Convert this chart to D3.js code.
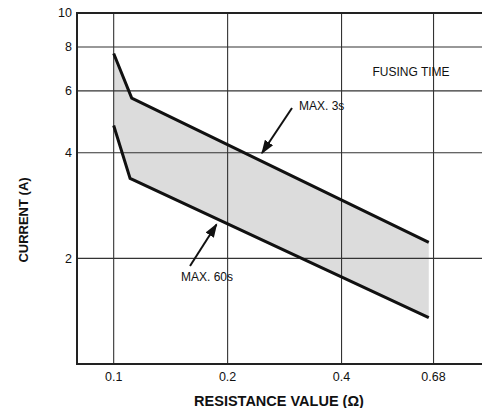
<!DOCTYPE html>
<html>
<head>
<meta charset="utf-8">
<script src="https://cdn.jsdelivr.net/npm/d3@7"></script>
<style>
  html, body { margin: 0; padding: 0; background: #fff; }
  svg { display: block; }
  text { font-family: "Liberation Sans", Arial, sans-serif; fill: #111; }
</style>
</head>
<body>
<script>
// ---- data ----
const upperX = [0.1, 0.1116, 0.68];      // MAX. 3s
const upperY = [7.67, 5.72, 2.22];
const lowerX = [0.1, 0.1105, 0.68];      // MAX. 60s
const lowerY = [4.78, 3.38, 1.356];
const xTickValues = [0.1, 0.2, 0.4, 0.7];
const xTickLabels = ["0.1", "0.2", "0.4", "0.68"];
const yTickValues = [2, 4, 6, 8, 10];
const yTickLabels = ["2", "4", "6", "8", "10"];
const seriesNames = ["MAX. 3s", "MAX. 60s"];

const W = 482, H = 408;
const mLeft = 77, mRight = 482, mTop = 13, mBottom = 364;

const svg = d3.select("body").append("svg").attr("width", W).attr("height", H);

const x = d3.scaleLog().domain([0.08, 0.94]).range([mLeft, mRight]);
const y = d3.scaleLog().domain([1, 10]).range([mBottom, mTop]);

// shaded band
const upper = upperX.map((v, i) => [v, upperY[i]]);
const lower = lowerX.map((v, i) => [v, lowerY[i]]);
const band = upper.concat(lower.slice().reverse());
svg.append("path")
  .attr("d", d3.line().x(d => x(d[0])).y(d => y(d[1]))(band) + "Z")
  .attr("fill", "#dcdcdc").attr("stroke", "none");

// grid
const g = svg.append("g");
g.selectAll("line.h").data(yTickValues.filter(v => v < 10)).join("line")
  .attr("x1", mLeft).attr("x2", mRight)
  .attr("y1", d => y(d)).attr("y2", d => y(d))
  .attr("stroke", "#333").attr("stroke-width", 1.1);
g.selectAll("line.v").data(xTickValues).join("line")
  .attr("y1", y(10)).attr("y2", y(1))
  .attr("x1", d => x(d)).attr("x2", d => x(d))
  .attr("stroke", "#333").attr("stroke-width", 1.1);

// frame (left, top, bottom)
svg.append("line").attr("x1", mLeft).attr("x2", mRight).attr("y1", y(10)).attr("y2", y(10))
  .attr("stroke", "#222").attr("stroke-width", 2);
svg.append("line").attr("x1", mLeft).attr("x2", mRight).attr("y1", y(1)).attr("y2", y(1))
  .attr("stroke", "#222").attr("stroke-width", 2);
svg.append("line").attr("x1", mLeft).attr("x2", mLeft).attr("y1", y(10) - 1).attr("y2", y(1) + 1)
  .attr("stroke", "#222").attr("stroke-width", 2);

// curves
const line = d3.line().x(d => x(d[0])).y(d => y(d[1]));
[upper, lower].forEach(s => {
  svg.append("path").attr("d", line(s)).attr("fill", "none")
    .attr("stroke", "#111").attr("stroke-width", 3).attr("stroke-linejoin", "miter");
});

// tick labels
svg.selectAll("text.yt").data(yTickValues).join("text")
  .attr("x", mLeft - 5).attr("y", d => y(d)).attr("dy", "0.35em")
  .attr("text-anchor", "end").attr("font-size", 12.5)
  .text((d, i) => yTickLabels[i]);
svg.selectAll("text.xt").data(xTickValues).join("text")
  .attr("x", d => x(d)).attr("y", 381)
  .attr("text-anchor", "middle").attr("font-size", 12.5)
  .text((d, i) => xTickLabels[i]);

// axis titles
svg.append("text").attr("x", 279).attr("y", 406)
  .attr("text-anchor", "middle").attr("font-size", 14.5).attr("font-weight", "bold")
  .text("RESISTANCE VALUE (Ω)");
svg.append("text").attr("transform", "translate(28,220) rotate(-90)")
  .attr("text-anchor", "middle").attr("font-size", 13).attr("font-weight", "bold")
  .text("CURRENT (A)");

// annotations
svg.append("text").attr("x", 411).attr("y", 76).attr("text-anchor", "middle")
  .attr("font-size", 12).text("FUSING TIME");
svg.append("text").attr("x", 299).attr("y", 110).attr("font-size", 12).text(seriesNames[0]);
svg.append("text").attr("x", 181).attr("y", 281).attr("font-size", 12).text(seriesNames[1]);

const defs = svg.append("defs");
defs.append("marker").attr("id", "ah").attr("viewBox", "0 0 10 10")
  .attr("refX", 9).attr("refY", 5).attr("markerWidth", 7).attr("markerHeight", 7)
  .attr("markerUnits", "strokeWidth").attr("orient", "auto")
  .append("path").attr("d", "M0,1.5 L10,5 L0,8.5 Z").attr("fill", "#111");

function arrow(x1, y1, x2, y2) {
  svg.append("line").attr("x1", x1).attr("y1", y1).attr("x2", x2).attr("y2", y2)
    .attr("stroke", "#111").attr("stroke-width", 2).attr("marker-end", "url(#ah)");
}
arrow(292, 108, 262, 153);
arrow(190, 266, 216.5, 224.5);
</script>
</body>
</html>
